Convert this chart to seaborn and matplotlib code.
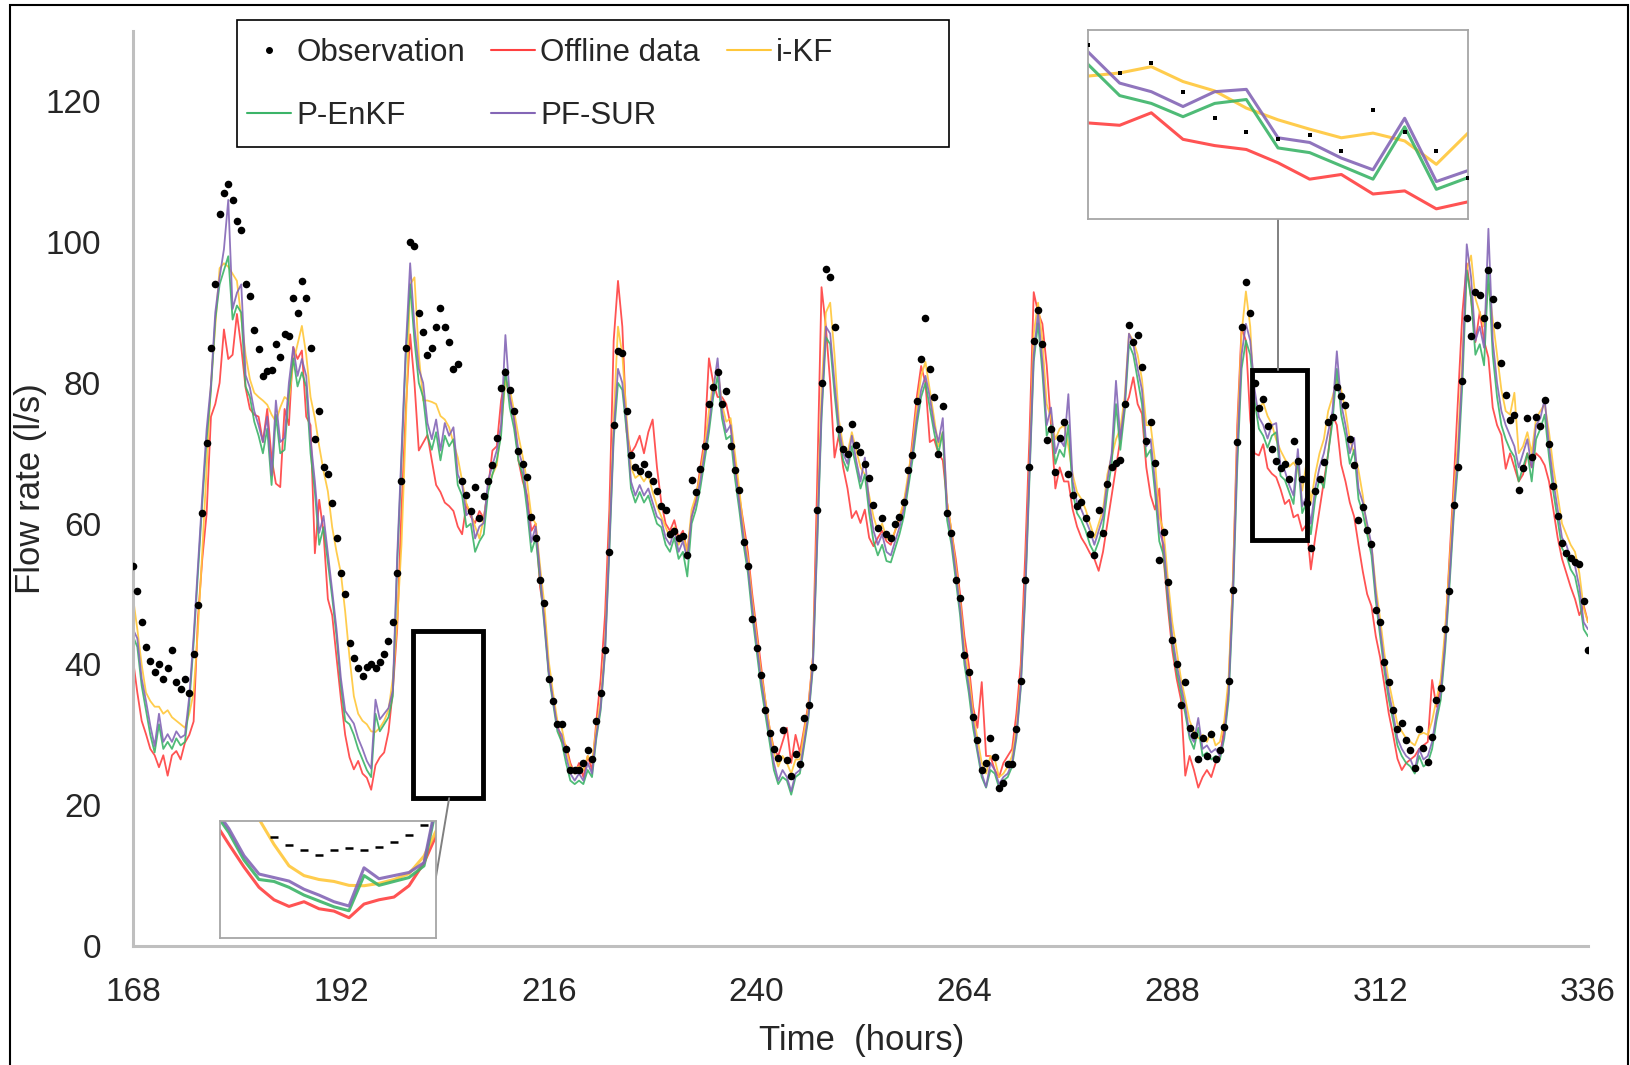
import numpy as np
import pandas as pd
import matplotlib
matplotlib.use("Agg")
import matplotlib.pyplot as plt
from matplotlib.patches import Rectangle
from matplotlib.lines import Line2D
import seaborn as sns

# half-hourly values, hour 168 .. 336 (12 hours per row)
obs = [
    54, 50.5, 46, 42.5, 40.5, 39, 40, 38, 39.5, 42, 37.5, 36.5, 38, 36, 41.5, 48.5, 61.5, 71.5, 85, 94, 104, 107, 108.3, 106,
    103, 101.7, 94.1, 92.4, 87.5, 84.8, 81, 81.7, 81.8, 85.5, 83.7, 87, 86.6, 92.1, 90, 94.5, 92, 85, 72, 76, 68, 67, 63, 58,
    53, 50, 43, 40.9, 39.5, 38.4, 39.6, 40.1, 39.5, 40.3, 41.5, 43.3, 46, 53, 66, 85, 100, 99.5, 90, 87.2, 84, 85, 88, 90.6,
    88, 85.8, 82, 82.7, 66, 64.1, 61.8, 65.2, 60.8, 64, 66.1, 68.3, 72.2, 79.3, 81.6, 79, 76, 70.3, 68.5, 66.7, 61, 58, 52, 48.7,
    38, 34.8, 31.5, 31.5, 28, 25, 25, 25, 26, 27.8, 26.5, 32, 36, 42, 56, 74, 84.5, 84.2, 76, 69.8, 68, 67.5, 68.5, 67,
    66, 64.6, 62.5, 62, 58.5, 59, 58, 58.3, 55.6, 66.2, 64.5, 67.8, 71, 77, 79.4, 81.5, 77, 78.8, 71, 67.6, 64.8, 57.4, 54, 46.5,
    42.3, 38.5, 33.6, 30.2, 28, 26.7, 30.7, 26.4, 24.2, 27.3, 25.8, 32.4, 34.2, 39.6, 62, 80, 96.2, 95, 88, 73.5, 70.6, 69.9, 74.2, 71.2,
    70.2, 68.5, 66.5, 62.6, 59.4, 60.8, 58.5, 58, 60, 61, 63.1, 67.6, 69.7, 77.5, 83.4, 89.2, 82, 78, 69.9, 76.7, 61.5, 58.7, 52, 49.4,
    41.4, 38.9, 32.6, 29.3, 25, 26, 29.5, 26.9, 22.5, 23.1, 25.8, 25.8, 30.8, 37.7, 52, 68, 86, 90.3, 85.5, 71.9, 73.5, 67.4, 72.2, 74.5,
    67, 64.1, 62.5, 63.1, 60.8, 58.5, 55.5, 62, 58.7, 65.6, 68, 68.6, 69, 77, 88.2, 85.8, 86.8, 82.2, 71.7, 74.4, 68.6, 54.8, 58.8, 51.7,
    43.5, 40, 34.2, 37.5, 31, 30, 26.5, 29.5, 27, 30.1, 26.5, 27.8, 31.1, 37.7, 50.6, 71.6, 88, 94.4, 89.9, 80, 76.4, 77.7, 73.9, 70.6,
    68.9, 67.9, 68.5, 66.4, 71.7, 68.9, 66.4, 63, 56.6, 64.6, 66.4, 68.7, 74.5, 75.1, 79.4, 78.2, 76.8, 72, 68.4, 60.5, 62.4, 59.1, 57.1, 47.7,
    46, 40.4, 37.5, 33.6, 30.9, 31.7, 29.2, 27.8, 25.3, 30.9, 28.1, 26.2, 29.7, 35, 36.6, 45.1, 50.4, 62.6, 68.1, 80.3, 89.2, 86.7, 92.9, 92.5,
    89.2, 96, 91.9, 88.2, 82.9, 78.3, 74.8, 75.5, 64.8, 67.9, 75, 69.5, 75.1, 73.9, 77.6, 71.3, 65.3, 61.1, 57.3, 55.8, 55.1, 54.6, 54.3, 49,
    42,
]

offline = [
    40.7, 36, 32, 30.1, 28, 27.1, 25.4, 27.1, 24.2, 27.1, 27.7, 26.5, 28.9, 30, 31.9, 46.6, 55, 61.4, 75.2, 77, 80, 87.6, 83.4, 84,
    89.8, 85.1, 79.3, 76.3, 75.5, 75.2, 71.6, 76.3, 69.3, 65.7, 65.2, 76.3, 74, 85.1, 83.4, 84.6, 75.2, 74, 55.8, 63.4, 58.7, 49.3, 47, 41,
    35.2, 30, 26.8, 25.1, 26.3, 24.5, 23.9, 22.2, 25.7, 26.8, 27.5, 30.4, 36.3, 45, 62, 76.3, 86.9, 80, 70.4, 71.5, 72.6, 69, 65.5, 64.5,
    63, 62.5, 61.8, 59.6, 58.5, 62.8, 61, 60.1, 61.8, 60.8, 65, 70.4, 71, 77.5, 80.8, 78, 75, 69, 66, 64, 59, 60, 51, 47,
    39, 35, 31.5, 29, 28.5, 26, 24.5, 26, 24, 27, 25, 32, 38, 47, 62, 86, 94.5, 88, 73, 70, 71, 72.5, 70, 73,
    74.8, 68, 63, 60, 59, 60.5, 58, 59, 56, 61, 63.5, 68, 72, 83.5, 80, 78, 78, 77, 74, 69, 64, 60, 56, 50,
    45, 40, 35, 31, 28, 27, 29, 31, 26, 30, 27.5, 31, 34.5, 41, 66, 93.6, 88, 80, 69.4, 72.6, 68, 65, 60.8, 61.8,
    60.1, 62, 58, 56.8, 58, 59, 57.5, 57, 59, 60.5, 63, 66, 72, 78, 82.4, 80, 71.6, 72, 70, 69, 63, 59, 55, 50,
    44, 40, 34, 31, 37.5, 27, 27, 25, 24, 26, 27, 28, 33, 40, 55, 72, 92.9, 90, 88.4, 82.5, 74, 65, 68, 66,
    66, 62, 59.6, 58, 57, 55.8, 55, 53.3, 56, 60, 64, 68, 72, 76.5, 78, 80.8, 77, 75.6, 68, 64, 62, 65, 55, 48,
    42, 38, 35, 24.2, 27, 25, 22.5, 24, 25, 24, 26, 27, 31, 37, 52, 74, 87.8, 86, 74.8, 70, 69.7, 71.3, 67.9, 67.1,
    66.6, 64.9, 62.8, 63.4, 60.9, 61.3, 59, 59.9, 53.5, 58, 62, 66, 70, 75.5, 74, 68.4, 66, 63, 61, 57, 53.2, 50, 48.3, 44,
    41, 37, 33, 30, 26.6, 25, 26, 26.5, 27, 28, 28.5, 29, 37.8, 34, 37, 44, 55, 66, 78, 90, 97, 92, 85.8, 90.1,
    86, 83.6, 76.5, 74, 72.6, 67.8, 70, 68, 66, 67, 70, 68, 70, 69.4, 68.3, 66, 62, 58, 55, 53, 51, 49.3, 47, 48.4,
    46,
]

ikf = [
    49.5, 45, 40, 36, 34.8, 34, 34, 33, 33.5, 32.5, 32, 31.5, 31, 33, 36, 45, 56, 68, 79.8, 88, 96.3, 97, 96.5, 95.5,
    94.5, 89.3, 84, 80.5, 78.6, 78, 77.5, 76.9, 75.5, 74.5, 76.5, 78, 77.5, 82.8, 85.5, 88.1, 84, 78, 75, 71, 67.5, 64.6, 59.5, 56,
    53, 47.5, 41, 35.5, 33, 32, 31.5, 30.5, 30.4, 31, 32, 33.5, 38, 46, 57, 74, 94, 95, 84, 77.5, 77.5, 77.3, 77, 75.3,
    74.8, 73.7, 71.5, 69.4, 66.1, 62.8, 61.5, 59.6, 57.9, 60.8, 65, 67, 68.3, 73.7, 80.3, 79.2, 76, 72.5, 69.5, 66, 61, 60, 54, 48.5,
    40.5, 36, 32, 31, 28, 25.5, 25, 25.5, 25, 27, 26, 31, 35, 43, 58, 75, 88, 84, 75, 68, 66.5, 67, 66, 67,
    64.5, 62.5, 61, 59.5, 58, 59.5, 57, 58.5, 56, 62, 64, 67, 71, 76, 80, 82, 77, 74.5, 75, 70, 65, 59, 55, 49,
    44, 39, 35, 31, 27.5, 25.5, 27, 26, 24.5, 26.5, 26.5, 30.5, 34, 41, 60, 79, 90, 91.4, 84, 74.8, 71, 70, 73, 70.5,
    68, 67, 64, 61, 59, 60, 58, 57.5, 59, 61, 63, 67, 71, 76.5, 81, 83, 79, 75, 71, 73, 63, 59, 54, 49,
    42.5, 38.5, 33, 29.5, 26, 24.5, 27, 26.5, 24, 24.5, 25.5, 27, 31, 38, 51, 68, 87, 91.4, 86, 77, 75, 72, 73.5, 74,
    71, 67, 64.5, 63.5, 62, 60, 58, 60, 62, 67, 69.5, 72, 73.5, 78, 87, 86, 84, 80.5, 74, 74, 69, 61, 59, 52,
    46, 42, 38, 35.1, 32, 30.5, 29.5, 30, 29, 30.5, 28.5, 29, 32, 38, 52, 72, 87, 93, 88, 76, 76.4, 77.2, 75.3, 74.1,
    71.9, 70.4, 69.2, 68.1, 68.7, 67.7, 64.7, 68.7, 63, 67, 70, 72, 76, 78, 80.4, 79, 76, 72, 70, 67.6, 64, 59, 57, 51,
    46.5, 41.5, 37.5, 34.5, 31.5, 30.5, 29.5, 29, 28.5, 30, 30.3, 30, 32, 35, 38, 45, 54, 64, 72, 84, 96, 98.1, 92, 90,
    88, 94, 89, 84, 79, 76, 75.5, 78.6, 70, 71, 73, 70, 75, 76, 77, 73, 68, 64, 60, 58.5, 57, 56, 53, 48,
    46,
]

penkf = [
    44, 42.5, 37, 33.5, 30, 27.5, 31.5, 28, 29, 28, 29.5, 28.5, 29, 34.5, 43, 53, 63, 72, 79, 89, 94, 96, 98, 89,
    91, 90, 79.5, 78, 74.5, 72.5, 70, 73.5, 65.5, 75.5, 70, 70.5, 78.5, 83.5, 79.5, 81.5, 79.5, 70, 64.5, 57, 59.5, 54.5, 49.5, 44,
    37, 32, 31.5, 30, 28, 26.5, 25, 24, 33, 30.5, 31.5, 32.5, 35.5, 54, 69, 84, 94, 86, 80, 78, 72.5, 70.5, 73, 69,
    72.5, 71, 72, 65.5, 64, 59.5, 60, 56, 57.5, 58.5, 64.5, 67, 69, 72.5, 82, 76.5, 73.5, 69, 67, 62, 56, 58, 52, 45.5,
    38.5, 34.5, 30.5, 29, 26, 23.5, 23, 23.5, 23, 25, 24, 29.5, 33.5, 41.5, 56, 72, 80, 79, 73, 65, 63, 64.5, 63, 64,
    62, 60, 59.5, 57, 56, 58, 55, 56, 52.5, 60, 62, 65, 69, 73, 78, 81, 75, 72, 72.5, 66.5, 62, 57, 53, 47,
    42, 37, 33, 29, 25, 23, 24, 23.5, 21.5, 24, 24.5, 28.5, 32.5, 39.5, 57, 75, 86.5, 85.5, 78.5, 72.5, 69, 67.5, 71, 68,
    65, 67, 61.5, 57.5, 55.5, 57, 54.7, 54.5, 56.5, 58.5, 61, 65, 69, 74, 78, 80, 76.5, 73, 70, 73, 60.5, 57, 52, 47,
    40, 36, 31, 27.5, 24, 22.5, 25, 24.5, 22.5, 23.5, 24, 25.5, 29.5, 36.5, 49, 66, 83, 88.5, 81.5, 72.5, 74, 68.5, 70.5, 69.5,
    74, 64.5, 61.5, 60.5, 59, 57, 55.8, 57.5, 59.5, 64.5, 68.5, 77, 70.5, 76, 85.5, 84, 80.5, 77, 69.5, 70.5, 64.5, 57.5, 55.5, 49,
    43, 39, 36, 33, 29.5, 28, 31, 27, 27.5, 26.5, 27, 26.5, 29.5, 35, 49, 68, 82, 86, 84, 77.5, 73.5, 72.5, 70.8, 72.5,
    73, 66.8, 66.2, 64.5, 62.8, 69.5, 61.5, 63, 58.5, 63.5, 66.5, 65.1, 70, 74.5, 82, 75.5, 72.5, 68.5, 70.5, 63.5, 61.5, 58.5, 55.5, 49,
    44, 39, 35, 32, 28.5, 27, 26, 25.5, 24.5, 27, 25.5, 26, 28, 32, 35, 42, 51, 61, 68.5, 80, 96, 92, 84, 85.5,
    82.5, 96, 84, 78, 74, 72, 70.5, 69.5, 66, 68, 70, 66, 72, 73.5, 75.5, 69.5, 64.5, 60.5, 56.5, 55.5, 53.5, 52.5, 49.5, 45,
    44,
]

pfsur = [
    45, 43.7, 38, 34.8, 31.3, 28.4, 33, 29, 30.1, 29, 30.5, 29.6, 30, 35.5, 44, 54, 64, 73.4, 79.8, 90, 95, 99, 106, 90.5,
    92.8, 94, 81.1, 79.3, 76, 74, 71.6, 75.2, 66.9, 77.5, 71.6, 72.2, 80, 85.1, 81, 83.4, 81, 72, 66, 58.7, 61.1, 55.8, 50.5, 45,
    38.1, 33.4, 32.5, 31.6, 29.5, 28, 26.3, 25.2, 35, 32.2, 33, 33.8, 36.3, 55.2, 70, 85, 97, 88, 82, 80, 74.3, 72, 74.8, 70.4,
    74.3, 72.5, 73.7, 67, 65.6, 61.2, 61.8, 57.9, 59.6, 60.1, 66.1, 68.3, 70.4, 74, 86.8, 78, 74.8, 70.4, 68.3, 63.5, 57.4, 59.6, 53, 46,
    39, 35, 31, 30, 27, 24.5, 23.5, 24.5, 23.5, 26, 24.5, 30, 34, 42, 57, 73, 82, 80, 74, 66, 64, 65.5, 64, 65,
    63, 61, 60.5, 58, 57, 59, 56, 57.5, 55, 61, 63, 66, 70, 74, 79, 83.5, 76, 73, 74, 68, 63, 58, 54, 48,
    43, 38, 34, 30, 26, 23.5, 25, 24, 22, 24.5, 25, 29, 33, 40, 58, 76, 88, 87, 80, 73.7, 70, 68.5, 72.5, 69,
    66, 69.4, 63, 59, 57, 58.5, 56, 55.5, 57.5, 59.5, 62, 66, 70, 75, 79, 81, 78, 74, 71.6, 75, 62, 58, 53, 48,
    41, 37, 32, 28, 24.5, 22.6, 26, 25, 23, 24, 24.5, 26, 30, 37, 50, 67, 84, 90, 83, 74, 76.5, 70, 72, 71,
    78.4, 66, 63, 62, 60.5, 59, 57, 59, 61, 66, 70, 80.3, 72, 77, 87, 85.5, 82, 79, 71, 72, 66, 59, 57, 50,
    44, 40, 37, 34, 30, 29, 32.4, 28, 28.5, 27.5, 28, 27, 30, 36, 50, 70, 84, 88.4, 86, 79.1, 75.1, 74, 72.1, 74,
    74.3, 68.1, 67.5, 65.5, 64, 70.6, 62.5, 63.9, 60, 65, 68, 70, 73, 76, 84.5, 77, 74, 70, 72.2, 65, 63, 60, 57, 50,
    45, 40, 36, 33, 29.5, 28, 27, 26.5, 25, 28, 26.5, 27, 29, 33, 36, 43, 52, 62, 70, 82, 99.7, 95, 86, 88,
    85, 101.9, 86, 80, 76, 74, 72.5, 71, 68, 70, 72, 68, 74, 75, 77.7, 71, 66, 62, 58, 57, 55, 54, 51, 46,
    45,
]

hours = 168 + 0.5 * np.arange(len(obs))
x_ticks = [168, 192, 216, 240, 264, 288, 312, 336]
y_ticks = [0, 20, 40, 60, 80, 100, 120]

models = {"Offline data": offline, "i-KF": ikf, "P-EnKF": penkf, "PF-SUR": pfsur}
colors = {"Offline data": "#FF4040", "i-KF": "#FFC73A", "P-EnKF": "#3CB468", "PF-SUR": "#8466B6"}
for k, v in models.items():
    assert len(v) == len(obs), (k, len(v), len(obs))

long_df = pd.concat([pd.DataFrame({"Time": hours, "Flow": v, "Series": k})
                     for k, v in models.items()], ignore_index=True)
obs_df = pd.DataFrame({"Time": hours, "Flow": obs})

sns.set_style("white")
plt.rcParams["font.family"] = ["Liberation Sans", "DejaVu Sans"]

W, H = 1630, 1065
fig = plt.figure(figsize=(W / 100, H / 100), dpi=100)
ax = fig.add_axes([133 / W, 1 - 946 / H, 1455 / W, 915 / H])


def draw(axis, lw, size, marker, mlw=0):
    sns.lineplot(data=long_df, x="Time", y="Flow", hue="Series", hue_order=list(models),
                 palette=colors, linewidth=lw, estimator=None, legend=False,
                 alpha=0.9, ax=axis)
    sns.scatterplot(data=obs_df, x="Time", y="Flow", color="black", s=size,
                    marker=marker, linewidth=mlw, edgecolor="black", legend=False,
                    ax=axis, zorder=5)
    axis.set_xlabel("")
    axis.set_ylabel("")


draw(ax, 1.3, 30, "o")
ax.set_xlim(168, 336)
ax.set_ylim(0, 130)
ax.set_xticks(x_ticks)
ax.set_yticks(y_ticks)
ax.tick_params(axis="x", length=0, labelsize=24, pad=22)
ax.tick_params(axis="y", length=0, labelsize=24, pad=23)
for s in ["top", "right"]:
    ax.spines[s].set_visible(False)
for s in ["left", "bottom"]:
    ax.spines[s].set_color("#BFBFBF")
    ax.spines[s].set_linewidth(2.2)
ax.set_xlabel("Time  (hours)", fontsize=25)
ax.set_ylabel("Flow rate (l/s)", fontsize=25)
ax.xaxis.set_label_coords(0.501, -0.085)
ax.yaxis.set_label_coords(-0.059, 0.5)

# zoom boxes and leader lines
ax.add_patch(Rectangle((200.3, 21.0), 8.1, 23.7, fill=False, ec="black", lw=3.5, zorder=6))
ax.add_patch(Rectangle((297.2, 57.7), 6.3, 24.2, fill=False, ec="black", lw=3.5, zorder=6))
ax.plot([300.2, 300.2], [81.9, 103.3], color="#808080", lw=1.4, zorder=6, clip_on=False)
ax.plot([204.5, 202.95], [21.0, 9.6], color="#808080", lw=1.4, zorder=6, clip_on=False)

# insets
ins_up = fig.add_axes([1088 / W, 1 - 219 / H, 380 / W, 189 / H])
ins_lo = fig.add_axes([220 / W, 1 - 938 / H, 216 / W, 117 / H])
draw(ins_up, 2.2, 7, "s")
draw(ins_lo, 2.2, 40, "_", 1.8)
for axi, xl, yl in [(ins_up, (297.5, 303.5), (57.7, 81.9)), (ins_lo, (191.2, 198.4), (17, 47))]:
    axi.set_xlim(*xl)
    axi.set_ylim(*yl)
    axi.set_xticks([])
    axi.set_yticks([])
    axi.set_facecolor("white")
    for s in axi.spines.values():
        s.set_color("#A6A6A6")
        s.set_linewidth(1.3)

# legend
handles = [Line2D([], [], ls="none", marker="o", color="black", ms=4),
           Line2D([], [], color=colors["P-EnKF"], lw=1.5),
           Line2D([], [], color=colors["Offline data"], lw=1.5),
           Line2D([], [], color=colors["PF-SUR"], lw=1.5),
           Line2D([], [], color=colors["i-KF"], lw=1.5)]
labels = ["Observation", "P-EnKF", "Offline data", "PF-SUR", "i-KF"]
ax.legend(handles, labels, ncol=3, loc="upper left",
          bbox_to_anchor=(247 / W, 1 - 38 / H), bbox_transform=fig.transFigure,
          frameon=False, fontsize=22.5, handlelength=1.4, handletextpad=0.17,
          columnspacing=0.85, labelspacing=1.05, borderpad=0, borderaxespad=0)
fig.add_artist(Rectangle((237 / W, 1 - 147 / H), 712 / W, 127 / H, transform=fig.transFigure,
                         fill=False, ec="black", lw=1.2))

# outer frame
fig.add_artist(Rectangle((10 / W, -0.01), 1618 / W, 1.01 - 5 / H, transform=fig.transFigure,
                         fill=False, ec="black", lw=1.5))

fig.savefig("out.png", dpi=100)
plt.close(fig)
